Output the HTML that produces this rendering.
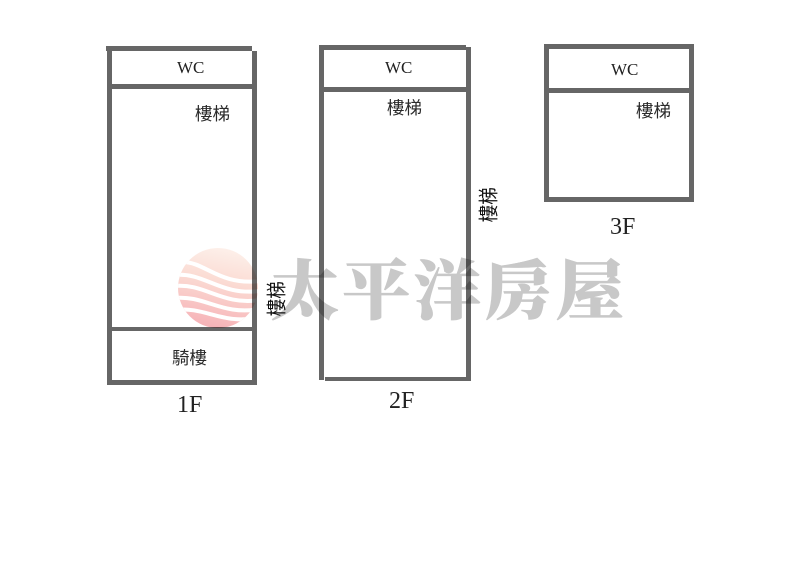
<!DOCTYPE html>
<html><head><meta charset="utf-8"><style>
html,body{margin:0;padding:0;background:#fff}
#c{position:relative;width:800px;height:576px;overflow:hidden;background:#fff}
.l{position:absolute;background:#666}
.t{position:absolute;white-space:nowrap;color:#2a2a2a;line-height:1;font-family:"Liberation Sans","Noto Sans CJK TC",sans-serif;font-size:17.5px}
.s{position:absolute;white-space:nowrap;color:#222;line-height:1;font-family:"Liberation Serif",serif}
.r{color:#111;font-size:17.5px;transform:rotate(-90deg) scaleY(1.15);transform-origin:center}
#w{position:absolute;left:271px;top:253px;white-space:nowrap;line-height:1;font-family:"Noto Serif CJK TC","Noto Serif CJK SC",serif;font-weight:900;font-size:68px;letter-spacing:3.2px;color:#c8c8c8;mix-blend-mode:multiply;-webkit-text-stroke:0.7px #c8c8c8;transform:scaleY(.95);transform-origin:center}
svg{position:absolute;left:0;top:0;mix-blend-mode:multiply}
</style></head><body><div id="c">
<div class="l" style="left:106px;top:46px;width:146px;height:5px"></div>
<div class="l" style="left:107px;top:46px;width:5px;height:339px"></div>
<div class="l" style="left:252px;top:51px;width:5px;height:334px"></div>
<div class="l" style="left:107px;top:84px;width:150px;height:5px"></div>
<div class="l" style="left:107px;top:327px;width:150px;height:4px"></div>
<div class="l" style="left:107px;top:380px;width:150px;height:5px"></div>

<div class="l" style="left:319px;top:45px;width:147px;height:5px"></div>
<div class="l" style="left:319px;top:45px;width:5px;height:335px"></div>
<div class="l" style="left:466px;top:47px;width:5px;height:334px"></div>
<div class="l" style="left:319px;top:87px;width:152px;height:5px"></div>
<div class="l" style="left:325px;top:377px;width:146px;height:4px"></div>

<div class="l" style="left:544px;top:44px;width:150px;height:5px"></div>
<div class="l" style="left:544px;top:44px;width:5px;height:158px"></div>
<div class="l" style="left:689px;top:44px;width:5px;height:158px"></div>
<div class="l" style="left:544px;top:88px;width:150px;height:5px"></div>
<div class="l" style="left:544px;top:197px;width:150px;height:5px"></div>

<div class="s" style="left:177px;top:59px;font-size:17px">WC</div>
<div class="s" style="left:385px;top:59px;font-size:17px">WC</div>
<div class="s" style="left:611px;top:61px;font-size:17px">WC</div>

<div class="t" style="left:195px;top:106px">樓梯</div>
<div class="t" style="left:387px;top:100px">樓梯</div>
<div class="t" style="left:636px;top:103px">樓梯</div>
<div class="t" style="left:172px;top:350px">騎樓</div>
<div class="t r" style="left:260px;top:290px">樓梯</div>
<div class="t r" style="left:472px;top:196px">樓梯</div>

<div class="s" style="left:177px;top:393px;font-size:24px">1F</div>
<div class="s" style="left:389px;top:389px;font-size:24px">2F</div>
<div class="s" style="left:610px;top:215px;font-size:24px">3F</div>

<svg width="800" height="576" viewBox="0 0 800 576">
<defs>
<linearGradient id="g" x1="0.6" y1="0" x2="0.4" y2="1">
<stop offset="0" stop-color="#fdf0ea"/><stop offset="0.4" stop-color="#fbdcd4"/><stop offset="1" stop-color="#f6b2b7"/>
</linearGradient>
<clipPath id="k"><circle cx="218" cy="288" r="40"/></clipPath>
</defs>
<circle cx="218" cy="288" r="40" fill="url(#g)"/>
<g clip-path="url(#k)" fill="none" stroke="#fff" stroke-width="4">
<path d="M183 262C205 262 220 286 260 281"/>
<path d="M175 275C205 272 220 296 260 291"/>
<path d="M175 286C205 283 222 306 260 300"/>
<path d="M175 298C205 295 222 316 260 309"/>
<path d="M175 310C205 306 224 326 260 317"/>
</g>
</svg>
<div id="w">太平洋房屋</div>
</div></body></html>
